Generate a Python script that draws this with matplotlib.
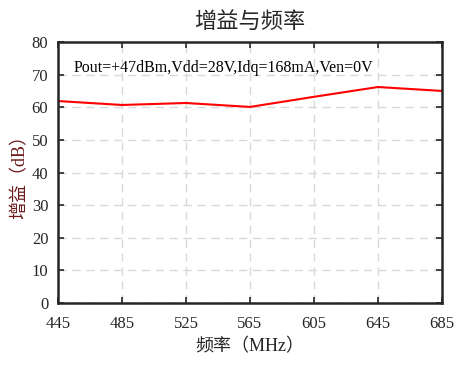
import matplotlib
matplotlib.use('Agg')
import matplotlib.pyplot as plt

plt.rcParams['font.family'] = ['Liberation Serif', 'Noto Sans CJK SC']

freq = [445, 485, 525, 565, 605, 645, 685]
gain = [61.9, 60.7, 61.3, 60.1, 63.2, 66.2, 65.0]
xticks = [445, 485, 525, 565, 605, 645, 685]
yticks = [0, 10, 20, 30, 40, 50, 60, 70, 80]

fig = plt.figure(figsize=(4.63, 3.65), dpi=100)
ax = fig.add_axes([58/463, 1 - 303/365, 384/463, 261/365])

ax.plot(freq, gain, color='#ff0000', lw=1.5)
ax.set_xlim(445, 685)
ax.set_ylim(0, 80)
ax.set_xticks(xticks)
ax.set_yticks(yticks)
ax.grid(True, ls=(0, (6, 4)), color='#d9d9d9', lw=1)
ax.tick_params(direction='in', top=True, right=True, labelsize=12,
               colors='#262626', length=4, width=1.2)
ax.tick_params(axis='x', pad=9)
ax.tick_params(axis='y', pad=7)
for s in ax.spines.values():
    s.set_linewidth(1.8)
    s.set_color('#262626')

ax.text(0.04, 0.93, 'Pout=+47dBm,Vdd=28V,Idq=168mA,Ven=0V',
        transform=ax.transAxes, fontsize=11.5, va='top', color='black')
ax.set_title('增益与频率', fontsize=16, color='#262626', pad=10,
             family=['Noto Sans CJK SC'])
ax.set_xlabel('频率（MHz）', fontsize=13, color='#262626', labelpad=5)
ax.set_ylabel('增益（dB）', fontsize=13, color='#6b1a1a', labelpad=2)

fig.savefig('out.png', dpi=100)
